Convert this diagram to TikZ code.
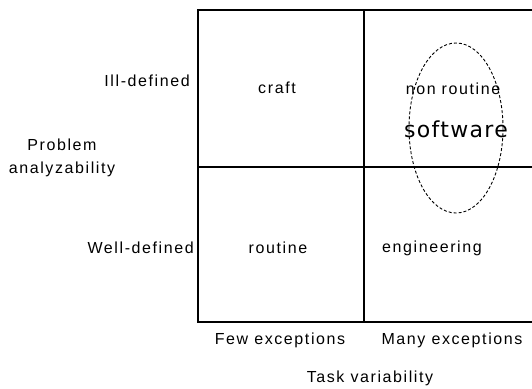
\documentclass[tikz,border=0pt]{standalone}
\usepackage{fontspec}
\setmainfont{Liberation Sans}[LetterSpace=10]
\newfontfamily\swfont{DejaVu Sans}[LetterSpace=6]
\usetikzlibrary{shapes.geometric}
\begin{document}
\begin{tikzpicture}[x=1pt,y=-1pt,
  lbl/.style={inner sep=0pt,font=\fontsize{16}{19}\selectfont},
  frame/.style={line width=1.5pt,black},
  oval/.style={draw,ellipse,line width=0.9pt,dash pattern=on 3pt off 2pt,
    minimum width=94pt,minimum height=170pt,inner sep=0pt}]
\useasboundingbox (0,0) rectangle (532,388);
% grid
\coordinate (tl) at (198,10);
\coordinate (tr) at (534,10);
\coordinate (bl) at (198,322);
\coordinate (br) at (534,322);
\coordinate (mt) at (364,10);
\coordinate (mb) at (364,322);
\coordinate (ml) at (198,167);
\coordinate (mr) at (534,167);
\draw[frame] (tr) -- (tl) -- (bl) -- (br);
\draw[frame] (mt) -- (mb);
\draw[frame] (ml) -- (mr);
% ellipse
\node[oval] (sw) at (456,128) {};
% cell labels
\node[lbl] (craft) at (277,88) {craft};
\node[lbl] (nonr) at (453,89) {non routine};
\node[inner sep=0pt,font=\swfont\fontsize{22}{26}\selectfont] (soft) at (456,129) {software};
\node[lbl] (rout) at (278,248) {routine};
\node[lbl] (eng) at (432,248) {engineering};
% axis labels
\node[lbl,anchor=east] (ill) at (190,81) {Ill-defined};
\node[lbl,anchor=east] (well) at (194,248) {Well-defined};
\node[lbl,align=center] (prob) at (62,158) {Problem\\[4pt]analyzability};
\node[lbl] (few) at (280,340) {Few exceptions};
\node[lbl] (many) at (452,340) {Many exceptions};
\node[lbl] (task) at (370,378) {Task variability};
\end{tikzpicture}
\end{document}
